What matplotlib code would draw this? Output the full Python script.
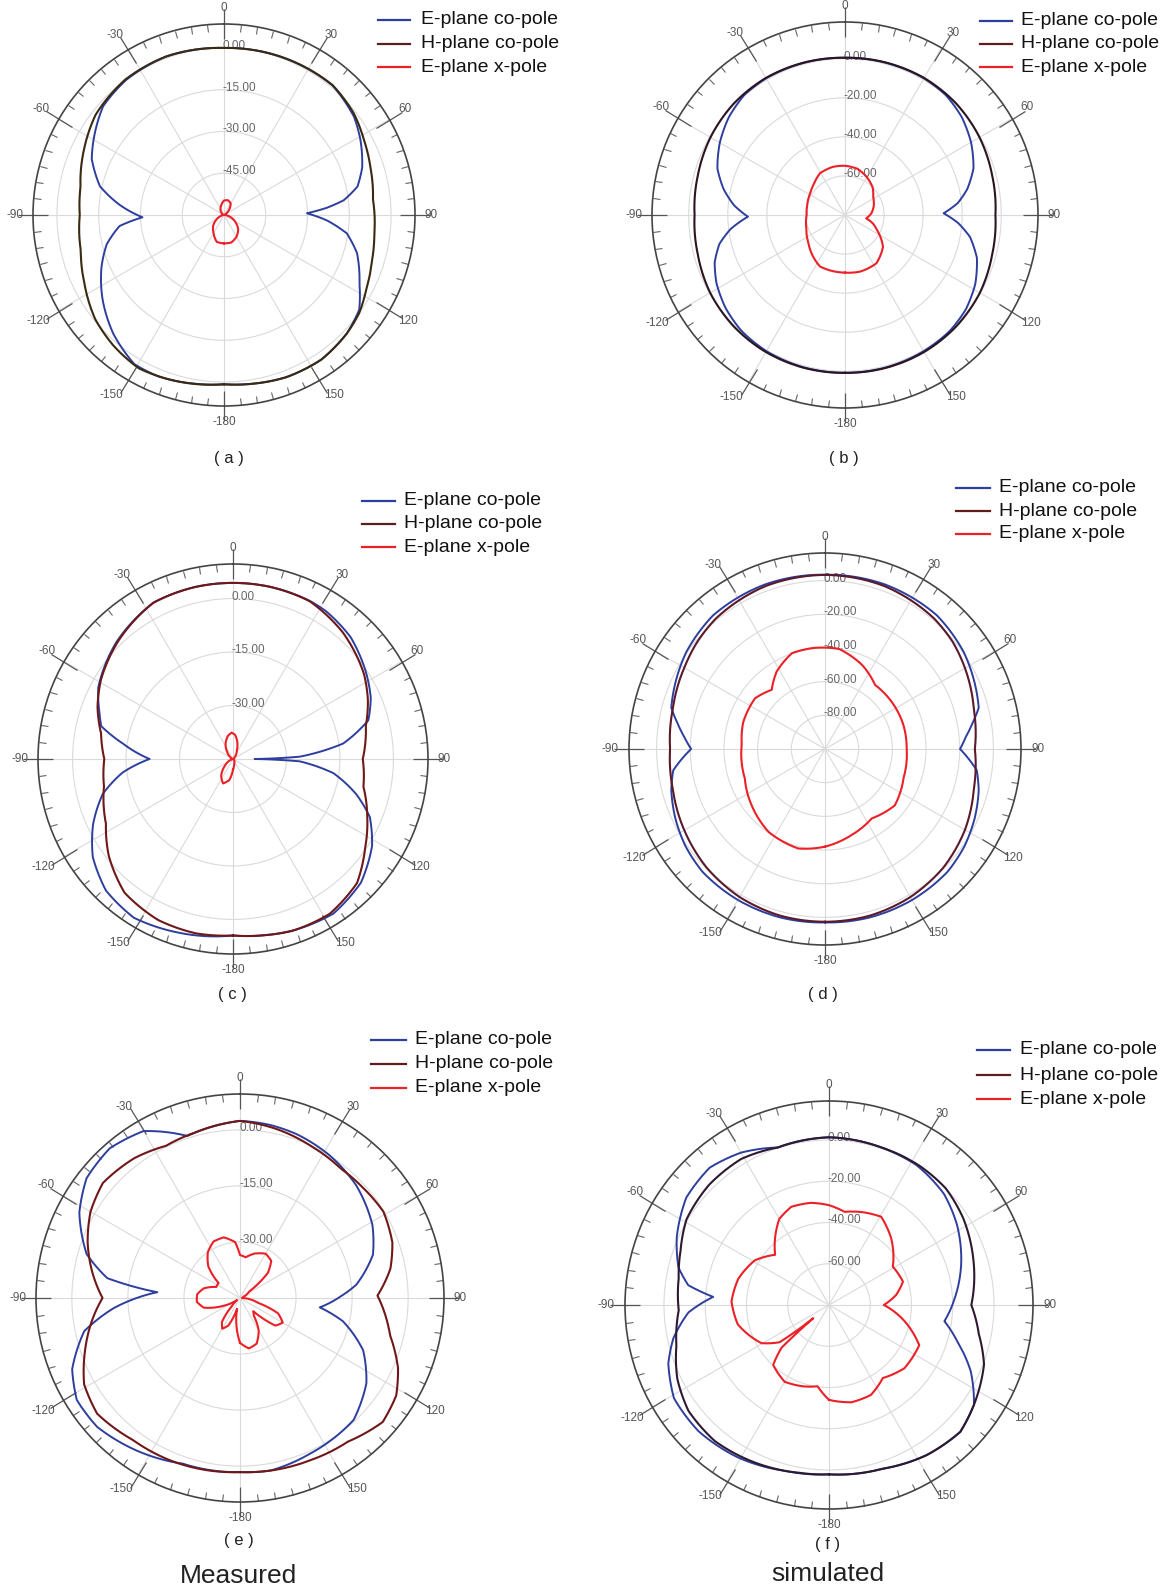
import numpy as np
import matplotlib
matplotlib.use('agg')
import matplotlib.pyplot as plt
from matplotlib.lines import Line2D

plt.rcParams['font.family'] = ['Liberation Sans', 'DejaVu Sans']

W, H = 1160, 1589  # figure size in pixels (dpi 100)

series_names = ['E-plane co-pole', 'H-plane co-pole', 'E-plane x-pole']
angle_labels = ['0', '30', '60', '90', '120', '150', '-180', '-150', '-120', '-90', '-60', '-30']

# ---------------- (a) measured, band 1 ----------------
a_e_theta = [-180, -170, -158, -149, -137, -125, -113, -104, -96, -91.6, -84.5, -77, -67, -58, -48, -36, -20, 0,
             15, 27, 40, 53, 61, 71, 78, 83, 86, 88.8, 93, 98.5, 106, 117, 125, 134, 146, 159, 170, 180]
a_e_co = [0.8, 1.5, 2.6, 2.5, -1.7, -6.8, -12.2, -16.6, -22.3, -30.7, -22.4, -14.3, -8.4, -5.2, -1.6, -0.1, 0.6, 0,
          0.3, 0.5, 0.7, -1.5, -4, -7.5, -11, -16.7, -23, -30.2, -23, -15.4, -10.3, -5.4, -0.7, 1.3, 2.6, 2.4, 1.5, 0.8]
a_h_theta = [-180, -165, -151, -140, -129, -116, -104, -90, -79, -65, -52, -36, -20, 0, 20, 40, 52, 62, 72, 84,
             97, 107, 117, 126, 134, 146, 159, 170, 180]
a_h_co = [0.8, 2.0, 3.0, 1.5, -0.5, -4.2, -7.0, -8.2, -7.5, -4.5, -1.5, 0.2, 0.6, 0, 0.4, 0.8, -0.8, -3.0, -4.7, -6.2,
          -5.6, -4.4, -2.5, 0, 1.3, 2.6, 2.4, 1.5, 0.8]
a_x_theta = [-180, -165, -150, -135, -120, -105, -90, -60, -30, -15, 0, 15, 30, 45, 60, 90, 105, 120, 135, 150, 165, 180]
a_x_pol = [-49.8, -50.0, -52.5, -54.5, -57, -59, -60, -59.5, -57.5, -56.3, -54.8, -54.5, -55.2, -57.5, -59.5, -60,
           -58, -55.5, -52.8, -51, -49.8, -49.8]
a_levels = [0, -15, -30, -45]

# ---------------- (b) simulated, band 1 ----------------
b_e_theta = [-180, -165, -150, -138, -128, -118, -110, -103, -97, -91, -85, -78, -70, -60, -50, -40, -30, -15, 0, 15,
             30, 40, 50, 60, 70, 78, 84, 89, 94, 100, 108, 118, 128, 138, 150, 165, 180]
b_e_co = [0.8, 0.8, 0.5, -0.5, -2.5, -5.5, -9, -14, -21, -30.3, -23, -16.5, -10.5, -6, -2.3, 0.2, 0.8, 0.7, 0.5, 0.7,
          0.8, 0.2, -2, -5.5, -10, -16, -22, -29.5, -22, -15, -9, -4.5, -1.5, 0, 0.5, 0.8, 0.8]
b_h_theta = [-180, -165, -150, -135, -120, -105, -90, -75, -60, -45, -30, -15, 0, 15, 30, 45, 60, 75, 90, 105, 120,
             135, 150, 165, 180]
b_h_co = [0.8, 1.0, 1.0, 0.6, -0.3, -2.0, -3.0, -2.0, -0.5, 0.6, 1.0, 0.8, 0.5, 0.8, 1.0, 0.6, -0.5, -2.0, -3.0, -2.0,
          -0.3, 0.6, 1.0, 1.0, 0.8]
b_x_theta = [-180, -154, -128, -110, -90, -75, -58, -45, -31, -14, 0, 15, 29, 45, 57, 72, 86, 99, 107, 115, 130, 147,
             165, 180]
b_x_pol = [-50.5, -50.7, -56.3, -59, -60.4, -60, -59, -57.5, -55.1, -54.6, -54.8, -55.5, -57.5, -60, -62.8, -64.5,
           -66.4, -69, -65, -62, -54.6, -50.5, -50, -50.5]
b_levels = [0, -20, -40, -60]

# ---------------- (c) measured, band 2 ----------------
c_e_theta = [-180, -162, -148, -136, -125, -115, -105, -97, -90, -82, -76, -71, -62, -45, -27, -12, 0, 12, 26, 32,
             44, 57, 66, 74, 82, 88, 90, 92, 98, 106, 113, 122, 134, 147, 160, 170, 180]
c_e_co = [4.5, 6.1, 7.5, 6.3, 3.0, -1.7, -7.2, -13.8, -21.6, -13.8, -6.9, -5.4, -2.2, 1.3, 4.2, 4.4, 4.4, 4.4, 4.3, 4.0,
          2.5, -0.5, -2.7, -5.5, -13.8, -26.3, -38.9, -26.3, -16.6, -9, -3.3, 1.0, 4.9, 6.7, 6.0, 5.2, 4.5]
c_h_theta = [-180, -168, -155, -141, -128, -117, -102, -90, -79, -69, -59, -44, -27, -12, 0, 12, 26, 41, 57, 66, 76,
             90, 102, 113, 124, 135, 148, 161, 170, 180]
c_h_co = [4.5, 5.0, 4.8, 3.3, -0.8, -5.0, -8.0, -8.9, -7.3, -4.3, -1.8, 1.2, 4.2, 4.4, 4.4, 4.4, 4.2, 2.0, -1.2, -3.6,
          -6.6, -8.6, -7.6, -4.1, -0.3, 4.2, 6.2, 6.0, 5.2, 4.5]
c_x_theta = [-180, -170, -158, -145, -130, -110, -90, -60, -40, -25, -12, -3, 5, 12, 25, 45, 90, 135, 160, 172, 180]
c_x_pol = [-42, -39, -37.6, -39.2, -42, -44.5, -45, -44.5, -42.5, -40.1, -38.3, -37.6, -38.2, -39.6, -42.5, -44.5,
           -45, -44.5, -44, -43, -42]
c_levels = [0, -15, -30]

# ---------------- (d) simulated, band 2 ----------------
d_e_theta = [-180, -165, -150, -135, -125, -115, -105, -98, -90, -85, -80, -75, -65, -55, -40, -20, 0, 20, 40, 55, 65,
             75, 80, 85, 90, 98, 105, 115, 125, 135, 150, 165, 180]
d_e_co = [3, 3.5, 3.5, 3, 1, -2, -5.5, -9, -20.5, -16, -11, -5.5, -2.5, 0.5, 3.5, 4, 3.5, 4, 3.5, 0.5, -2.5,
          -5.5, -11, -16, -19.8, -9, -5.5, -2, 1, 3, 3.5, 3.5, 3]
d_h_theta = [-180, -165, -150, -135, -120, -105, -90, -75, -60, -50, -40, -20, 0, 20, 40, 50, 60, 75, 90, 105, 120,
             135, 150, 165, 180]
d_h_co = [2.6, 2.5, 1.5, -0.5, -3.5, -6.5, -8, -6.5, -3.5, -1, 1, 3, 3.4, 3, 1, -1, -4, -8.5, -11, -8.5, -4, -0.5,
          1.5, 2.5, 2.6]
d_x_theta = [-180, -165, -146, -127, -110, -87, -72, -54, -42, -32, -19, -6, 8, 24, 38, 55, 73, 90, 110, 129, 146,
             163, 180]
d_x_pol = [-42, -38.8, -40.4, -45.2, -49.3, -50.5, -48.9, -48.7, -52.7, -45.8, -39.8, -39.6, -40, -45.5, -51.7, -51.5,
           -51.3, -51.5, -50.3, -46.7, -50.3, -46.5, -42]
d_levels = [0, -20, -40, -60, -80]

# ---------------- (e) measured, band 3 ----------------
e_e_theta = [-180, -161, -146, -132, -122, -113, -102, -94.5, -86, -81.5, -74, -62, -52, -41, -30, -18, 0, 10, 19, 32,
             46, 61, 72, 83.5, 89, 96.7, 102.7, 113, 124, 137, 156, 170, 180]
e_e_co = [1.6, 1.9, 4.3, 6.5, 6.5, 3.8, -2.4, -11.2, -22.8, -9.1, -2.3, 3.7, 7.1, 8.1, 6.6, 0.6, 2.4, 2.0, 1.4, 0.1,
          -1.7, -4.5, -7.6, -13.7, -18, -23.5, -16.8, -9.2, -4.2, -0.4, 0.7, 1.9, 1.6]
e_h_theta = [-180, -157, -143, -129, -119, -109, -99, -90, -79, -70, -60, -50, -37, -26, -15, 0, 12, 25, 38, 48, 59,
             70, 79, 89, 104, 114, 122, 131, 143, 157, 170, 180]
e_h_co = [1.6, 2.3, 2.6, 4.2, 2.7, -1.1, -4.8, -8.2, -4.5, -1.6, 1.2, 2.9, 1.9, 0.3, 0.9, 2.4, 1.3, -0.1, -1.1, -0.8,
          -0.2, -1.6, -4.0, -8.2, -3.6, 1.3, 4.3, 5.6, 3.1, 2.3, 1.9, 1.6]
e_x_theta = [-180, -172, -165, -157, -150, -143, -135, -125, -115, -105, -95, -85, -75, -65, -55, -45, -35, -25, -15,
             -5, 0, 8, 18, 30, 40, 48, 55, 70, 90, 105, 112, 120, 128, 135, 142, 150, 160, 170, 180]
e_x_pol = [-33, -38, -42, -37, -35.5, -37, -42, -44, -40, -35, -33.4, -33.5, -35, -38, -38, -33, -30, -28.3, -28.2,
           -30, -33.5, -34, -32.5, -31.3, -32, -35, -42, -44, -44.5, -40, -34, -31.8, -33, -40, -39, -35, -32, -31.3, -33]
e_levels = [0, -15, -30]

# ---------------- (f) simulated, band 3 ----------------
f_e_theta = [-180, -165, -149, -134, -121, -110, -102, -93, -86, -82, -76, -66, -53, -41, -30, -18, 0, 18, 32, 46,
             58, 73, 87, 92, 98, 106, 115, 124.5, 134, 147, 162, 180]
f_e_co = [2.1, 3.2, 6.1, 8.0, 7.7, 2.9, -2.9, -11.8, -23.7, -11.1, -4.8, 0.8, 6.6, 8.2, 5.3, 0.3, 1.3, 0.5, 0, -2.5,
          -6.8, -13, -19, -21, -23.5, -15.2, -4.2, 5.3, 8.5, 6.8, 3.5, 2.1]
f_h_theta = [-180, -170, -154, -140, -127, -116, -105, -92, -80, -70, -59, -45, -31, -18, 0, 18, 33, 45, 57, 72,
             90, 101, 111, 124.5, 134, 147, 162, 180]
f_h_co = [2.1, 2.6, 4.5, 6.1, 5.3, 1.8, -3.4, -7.1, -6.0, -3.4, 0.6, 2.3, 2.6, 0.3, 1.3, 0.5, 0.5, 0, -2.5, -6.5,
          -11, -6, 0.5, 5.3, 8.5, 6.8, 3.5, 2.1]
f_x_theta = [-180, -172, -163, -150, -137, -132, -130, -127, -119.5, -102, -88, -74, -59, -47, -30, -21, -10, 0, 9.5,
             19, 30.6, 43, 59, 72.5, 81.5, 90, 102, 114, 130, 143.6, 155, 167, 180]
f_x_pol = [-34, -40.2, -38.7, -37, -40.3, -49, -70, -50, -42.4, -34.8, -32.7, -34.2, -38, -44.3, -31.8, -29, -29.7,
           -31.6, -34.2, -32.3, -30.3, -35.8, -43.9, -42.4, -47.1, -53.4, -42.6, -32.1, -32.3, -36, -31.9, -31.6, -34]
f_levels = [0, -20, -40, -60]

BLUE = '#2d3e9e'
RED = '#ec2027'
LEG_H = '#5e1c1c'

fig = plt.figure(figsize=(W / 100, H / 100), dpi=100)


def polar_panel(cx, cy, R, rmin, rmax, levels):
    ax = fig.add_axes([(cx - R) / W, 1 - (cy + R) / H, 2 * R / W, 2 * R / H], projection='polar')
    ax.set_theta_zero_location('N')
    ax.set_theta_direction(-1)
    ax.set_ylim(rmin, rmax)
    ax.set_xticks(np.deg2rad(np.arange(0, 360, 30)))
    ax.set_xticks(np.deg2rad(np.arange(0, 360, 5)), minor=True)
    ax.set_xticklabels([])
    ax.set_yticks(levels)
    ax.set_yticklabels([])
    ax.tick_params(axis='y', length=0)
    # theta tick marks on the outer ring only (tick2 sits on the outer spine)
    ax.tick_params(axis='x', which='both', bottom=False, top=True, labeltop=False, labelbottom=False)
    ax.tick_params(axis='x', which='major', direction='inout', length=11, width=0.9, color='#555555')
    ax.tick_params(axis='x', which='minor', direction='in', length=5, width=0.8, color='#666666')
    ax.grid(True, which='major', color='#dadada', lw=0.8)
    ax.spines['polar'].set_color('#444444')
    ax.spines['polar'].set_linewidth(1.2)

    # angle labels just outside the ring
    dpx = (rmax - rmin) / R
    for k, lab in enumerate(angle_labels):
        t = np.deg2rad(30 * k)
        s, c = np.sin(t), np.cos(t)
        ha = 'center' if abs(s) < 0.1 else ('left' if s > 0 else 'right')
        va = 'center' if abs(c) < 0.1 else ('bottom' if c > 0 else 'top')
        ax.text(t, rmax + 10 * dpx, lab, ha=ha, va=va, fontsize=8.5, color='#555555', clip_on=False)

    # radial level labels along the 0 degree spoke
    for lev in levels:
        ax.annotate('%.2f' % lev if lev != 0 else '0.00', xy=(0, lev), xytext=(-1, 2),
                    textcoords='offset pixels', ha='left', va='center', fontsize=8.5, color='#666666')
    return ax


def trace(ax, theta, vals, color, lw, z):
    ln, = ax.plot(np.deg2rad(theta), vals, color=color, lw=lw, zorder=z)
    # let the polar transform bend each segment along theta instead of a chord
    ln.get_path()._interpolation_steps = 40
    return ln


def draw_curves(ax, et, ev, ht, hv, xt, xv, hcolor):
    trace(ax, et, ev, BLUE, 1.4, 3)
    trace(ax, ht, hv, hcolor, 1.5, 4)
    trace(ax, xt, xv, RED, 1.5, 5)


def legend(xl0, xl1, xt, rows):
    for name, col, y in zip(series_names, [BLUE, LEG_H, RED], rows):
        fig.add_artist(Line2D([xl0 / W, xl1 / W], [1 - y / H, 1 - y / H], color=col, lw=1.6,
                              transform=fig.transFigure))
        fig.text(xt / W, 1 - y / H, name, ha='left', va='center', fontsize=14, color='#111111')


def caption(x, y, s, size=12):
    fig.text(x / W, 1 - y / H, s, ha='center', va='center', fontsize=size, color='#222222')


ax = polar_panel(224, 215, 191, -60, 8.6, a_levels)
draw_curves(ax, a_e_theta, a_e_co, a_h_theta, a_h_co, a_x_theta, a_x_pol, '#3a2a12')
legend(378, 410, 421, [20, 43.5, 67])
caption(229, 458, '( a )')

ax = polar_panel(845, 215, 193, -80, 18.8, b_levels)
draw_curves(ax, b_e_theta, b_e_co, b_h_theta, b_h_co, b_x_theta, b_x_pol, '#2b1520')
legend(980, 1012, 1021, [20.5, 44, 67])
caption(844, 458, '( b )')

ax = polar_panel(233, 759, 195, -45, 9.7, c_levels)
draw_curves(ax, c_e_theta, c_e_co, c_h_theta, c_h_co, c_x_theta, c_x_pol, '#6e1818')
legend(362, 395, 404, [500.5, 524, 547])
caption(232, 994, '( c )')

ax = polar_panel(825, 749, 196, -100, 16.4, d_levels)
draw_curves(ax, d_e_theta, d_e_co, d_h_theta, d_h_co, d_x_theta, d_x_pol, '#5a1a2a')
legend(956, 990, 999, [487.5, 511, 534])
caption(823, 995, '( d )')

ax = polar_panel(240, 1298, 204, -45, 9.6, e_levels)
draw_curves(ax, e_e_theta, e_e_co, e_h_theta, e_h_co, e_x_theta, e_x_pol, '#701818')
legend(371, 406, 415, [1040, 1064, 1088])
caption(239, 1540, '( e )')
caption(239, 1576, 'Measured', 19)

ax = polar_panel(829, 1305, 204, -80, 18.9, f_levels)
draw_curves(ax, f_e_theta, f_e_co, f_h_theta, f_h_co, f_x_theta, f_x_pol, '#2e1a30')
legend(977, 1010, 1020, [1050, 1075, 1099])
caption(828, 1545, '( f )')
caption(828, 1574, 'simulated', 19)

fig.savefig('out.png', dpi=100)
